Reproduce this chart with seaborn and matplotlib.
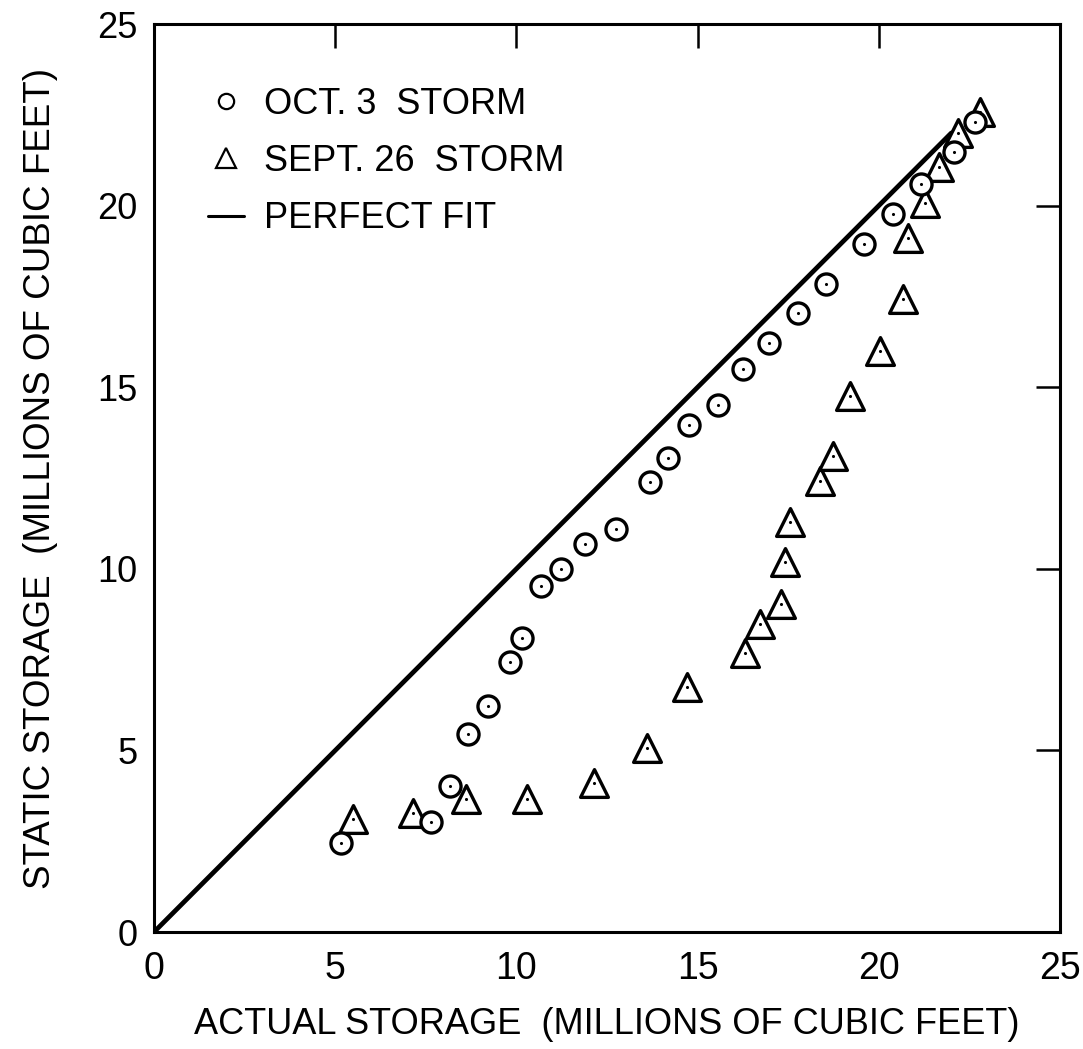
import matplotlib
matplotlib.use("Agg")
import matplotlib.pyplot as plt
from matplotlib.lines import Line2D
import seaborn as sns
import pandas as pd

# Oct. 3 storm: actual vs static storage (millions of cubic feet)
oct3_actual = [5.16, 7.64, 8.17, 8.66, 9.22, 9.82, 10.15, 10.68, 11.23, 11.89,
               12.75, 13.69, 14.18, 14.76, 15.56, 16.25, 16.97, 17.77, 18.54,
               19.59, 20.39, 21.16, 22.07, 22.65]
oct3_static = [2.45, 3.03, 4.02, 5.46, 6.23, 7.44, 8.10, 9.54, 10.00, 10.67,
               11.11, 12.38, 13.04, 13.95, 14.50, 15.49, 16.21, 17.03, 17.83,
               18.94, 19.76, 20.59, 21.47, 22.30]

# Sept. 26 storm
sept26_actual = [5.49, 7.15, 8.61, 10.29, 12.14, 13.60, 14.71, 16.31, 16.72,
                 17.30, 17.41, 17.55, 18.38, 18.74, 19.21, 20.03, 20.67, 20.81,
                 21.27, 21.66, 22.19, 22.79]
sept26_static = [3.11, 3.28, 3.67, 3.67, 4.11, 5.07, 6.75, 7.69, 8.49,
                 9.04, 10.20, 11.30, 12.43, 13.12, 14.77, 16.01, 17.42, 19.10,
                 20.07, 21.06, 21.99, 22.57]

# Perfect-fit line (static = actual)
fit_x = [0, 22]
fit_y = [0, 22]

axis_ticks = [0, 5, 10, 15, 20, 25]

sns.set_theme(style="white")
plt.rcParams["font.family"] = ["Liberation Sans", "DejaVu Sans"]
plt.rcParams["text.color"] = "black"
plt.rcParams["axes.labelcolor"] = "black"
plt.rcParams["xtick.color"] = "black"
plt.rcParams["ytick.color"] = "black"

fig = plt.figure(figsize=(10.83, 10.49), dpi=100)
ax = fig.add_axes([0.1422, 0.1115, 0.8366, 0.8656])

fit_df = pd.DataFrame({"actual": fit_x, "static": fit_y})
sns.lineplot(data=fit_df, x="actual", y="static", ax=ax, color="black",
             linewidth=3.4, zorder=2, legend=False)

sept_df = pd.DataFrame({"actual": sept26_actual, "static": sept26_static})
oct_df = pd.DataFrame({"actual": oct3_actual, "static": oct3_static})

sns.scatterplot(data=sept_df, x="actual", y="static", ax=ax, marker="^",
                s=400, facecolor="white", edgecolor="black", linewidth=2.4,
                zorder=3, legend=False)
sns.scatterplot(data=oct_df, x="actual", y="static", ax=ax, marker="o",
                s=230, facecolor="white", edgecolor="black", linewidth=2.4,
                zorder=4, legend=False)
# centre dots of the plotted symbols
sns.scatterplot(data=sept_df, x="actual", y="static", ax=ax, marker="o",
                s=5, color="black", linewidth=0, zorder=5, legend=False)
sns.scatterplot(data=oct_df, x="actual", y="static", ax=ax, marker="o",
                s=5, color="black", linewidth=0, zorder=5, legend=False)

ax.set_xlim(0, 25)
ax.set_ylim(0, 25)
ax.set_xticks(axis_ticks)
ax.set_yticks(axis_ticks)
ax.set_xticklabels([str(t) for t in axis_ticks], fontsize=27)
ax.set_yticklabels([str(t) for t in axis_ticks], fontsize=26)

ax.tick_params(axis="both", which="major", direction="in", length=17,
               width=1.8, color="black", top=True, right=True,
               labelcolor="black")
ax.tick_params(axis="x", pad=14)
ax.tick_params(axis="y", pad=12)

for sp in ax.spines.values():
    sp.set_visible(True)
    sp.set_color("black")
    sp.set_linewidth(2.2)

ax.set_xlabel("ACTUAL STORAGE  (MILLIONS OF CUBIC FEET)",
              fontsize=26, labelpad=14, color="black")
ax.set_ylabel("STATIC STORAGE  (MILLIONS OF CUBIC FEET)",
              fontsize=26.5, labelpad=28, color="black")

handles = [
    Line2D([], [], linestyle="none", marker="o", markersize=11,
           markerfacecolor="white", markeredgecolor="black",
           markeredgewidth=1.6),
    Line2D([], [], linestyle="none", marker="^", markersize=15,
           markerfacecolor="white", markeredgecolor="black",
           markeredgewidth=1.6),
    Line2D([], [], color="black", linewidth=2.2),
]
labels = ["OCT. 3  STORM", "SEPT. 26  STORM", "PERFECT FIT"]
leg = ax.legend(handles, labels, loc="upper left", frameon=False, fontsize=26,
                handlelength=1.0, handletextpad=0.55, labelspacing=0.62,
                borderaxespad=0.0, bbox_to_anchor=(0.044, 0.947))
for t in leg.get_texts():
    t.set_color("black")

fig.savefig("out.png", dpi=100, facecolor="white")
